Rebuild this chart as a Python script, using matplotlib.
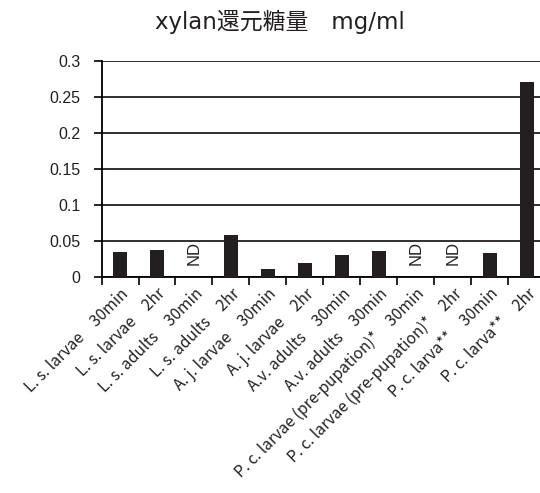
import matplotlib
matplotlib.use("Agg")
import matplotlib.pyplot as plt
import numpy as np

plt.rcParams['font.family'] = ['Noto Sans CJK JP', 'DejaVu Sans']

labels = ["L. s. larvae\u300030min", "L. s. larvae\u30002hr",
          "L. s. adults\u300030min", "L. s. adults\u30002hr",
          "A. j. larvae\u300030min", "A. j. larvae\u30002hr",
          "A.v. adults\u300030min", "A.v. adults\u300030min",
          "P. c. larvae (pre-pupation)*\u300030min",
          "P. c. larvae (pre-pupation)*\u30002hr",
          "P. c. larva**\u300030min", "P. c. larva**\u30002hr"]
values = [0.035, 0.038, np.nan, 0.058, 0.011, 0.019,
          0.031, 0.036, np.nan, np.nan, 0.033, 0.271]
yticks = [0, 0.05, 0.1, 0.15, 0.2, 0.25, 0.3]
yticklabels = ["0", "0.05", "0.1", "0.15", "0.2", "0.25", "0.3"]

fig = plt.figure(figsize=(5.4, 4.93), dpi=100)
ax = fig.add_axes([0.188, 0.438, 0.822, 0.438])

x = np.arange(len(labels))
ax.bar(x, np.nan_to_num(values), width=0.4, color='#231f20', zorder=3)

# not-detected markers
for i, v in enumerate(values):
    if np.isnan(v):
        ax.text(i, 0.0165, "ND", rotation=90, ha='center', va='bottom',
                fontsize=12, family='Liberation Sans', color='#231f20')

ax.set_xlim(-0.5, len(labels) - 0.5)
ax.set_ylim(0, 0.3)
ax.set_yticks(yticks)
ax.set_yticklabels(yticklabels, fontsize=11.5, family='Liberation Sans',
                   color='#231f20')
ax.yaxis.grid(True, color='#231f20', linewidth=1.3, zorder=0)
ax.set_axisbelow(True)

ax.set_xticks(np.arange(len(labels) + 1) - 0.5)
ax.set_xticklabels([])
ax.set_xticks(x, minor=True)
ax.set_xticklabels(labels, minor=True, rotation=45, ha='right',
                   rotation_mode='anchor', fontsize=11.3, color='#231f20')
ax.tick_params(axis='x', which='minor', length=0, pad=6)
ax.tick_params(axis='x', which='major', length=6, width=1.2, direction='out')
ax.tick_params(axis='y', length=6, width=1.2, pad=9)

for s in ['top', 'right']:
    ax.spines[s].set_visible(False)
ax.spines['left'].set_linewidth(1.3)
ax.spines['bottom'].set_linewidth(1.3)

fig.text(0.518, 0.955, "xylan還元糖量\u3000mg/ml", ha='center', va='center',
         fontsize=16.5, family=['DejaVu Sans', 'Noto Sans CJK JP'],
         color='#231f20')

fig.savefig("out.png", dpi=100)
